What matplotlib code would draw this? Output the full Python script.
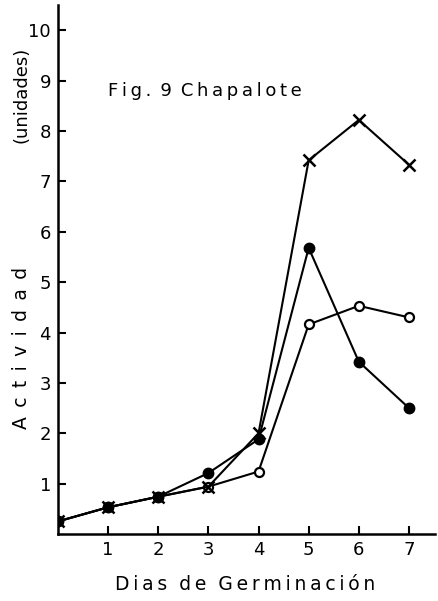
"""
Fig. 9 Chapalote: actividad vs dias de germinacion
"""

import matplotlib
matplotlib.use('Agg')
import matplotlib.pyplot as plt

dias = [0, 1, 2, 3, 4, 5, 6, 7]
serie_x = [0.25, 0.53, 0.74, 0.94, 2.0, 7.42, 8.22, 7.33]
serie_llena = [0.25, 0.53, 0.74, 1.21, 1.88, 5.68, 3.42, 2.5]
serie_abierta = [0.25, 0.53, 0.74, 0.94, 1.24, 4.16, 4.53, 4.3]

xticks = [1, 2, 3, 4, 5, 6, 7]
yticks = [1, 2, 3, 4, 5, 6, 7, 8, 9, 10]


def espaciado(texto, sep='\u2009'):
    # letras separadas, como en el rotulado original
    return sep.join(texto)


plt.rcParams['font.family'] = ['DejaVu Sans']
fig = plt.figure(figsize=(4.39, 6.01), dpi=100)
ax = fig.add_axes([0.132, 0.1115, 0.859, 0.880])

ax.plot(dias, serie_abierta, color='k', lw=1.5, marker='o', ms=6.5,
        mfc='white', mec='k', mew=1.6, zorder=3)
ax.plot(dias, serie_llena, color='k', lw=1.5, marker='o', ms=7.5,
        mfc='k', mec='k', zorder=4)
ax.plot(dias, serie_x, color='k', lw=1.5, marker='x', ms=9,
        mew=1.8, zorder=5)

ax.set_xlim(0, 7.52)
ax.set_ylim(0, 10.5)
ax.set_xticks(xticks)
ax.set_yticks(yticks)
ax.tick_params(direction='in', length=6, width=1.5, labelsize=13, pad=5)
for side in ('top', 'right'):
    ax.spines[side].set_visible(False)
for side in ('left', 'bottom'):
    ax.spines[side].set_linewidth(1.8)

fig.text(0.05, 0.421, espaciado('Actividad', '\u2002'), rotation=90,
         fontsize=13.5, ha='center', va='center')
fig.text(0.05, 0.842, '(unidades)', rotation=90, fontsize=13,
         ha='center', va='center')
fig.text(0.558, 0.027, espaciado('Dias') + '  ' + espaciado('de') + '  '
         + espaciado('Germinación'), fontsize=13.5, ha='center', va='center')
ax.text(1.0, 8.8, espaciado('Fig.') + '\u2002' + '9' + '\u2002'
        + espaciado('Chapalote'), fontsize=13, ha='left', va='center')

fig.savefig('out.png', dpi=100)
